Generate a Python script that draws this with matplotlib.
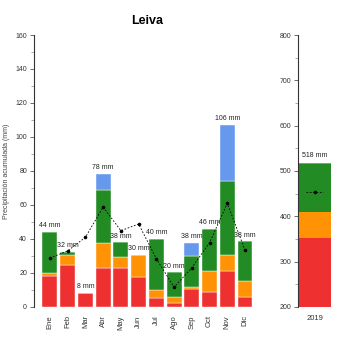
import matplotlib
matplotlib.use("Agg")
import matplotlib.pyplot as plt
import numpy as np

plt.rcParams['font.family'] = ['Liberation Sans', 'DejaVu Sans']

meses = ['Ene', 'Feb', 'Mar', 'Abr', 'May', 'Jun', 'Jul', 'Ago', 'Sep', 'Oct', 'Nov', 'Dic']
# tramos acumulados (valor del tope de cada color)
rojo = [18.4, 24.5, 8.4, 23.0, 23.0, 17.5, 5.5, 2.5, 10.6, 8.8, 21.4, 6.1]
naranja = [20.0, 30.6, 8.4, 37.8, 29.6, 30.6, 10.0, 6.0, 11.8, 21.2, 30.6, 15.3]
verde = [44.3, 32.5, 8.4, 69.0, 38.0, 30.6, 40.2, 20.4, 30.2, 45.9, 74.1, 38.6]
azul = [44.3, 32.5, 8.4, 78.2, 38.0, 30.6, 40.2, 20.4, 37.8, 45.9, 107.0, 38.6]
etiquetas = ['44 mm', '32 mm', '8 mm', '78 mm', '38 mm', '30 mm', '40 mm', '20 mm',
             '38 mm', '46 mm', '106 mm', '38 mm']
media = [28.8, 33.0, 41.0, 58.8, 44.9, 48.8, 28.4, 11.6, 23.1, 37.8, 61.0, 33.3]

anio = ['2019']
anio_tramos = [353, 409, 515, 518]
anio_etiqueta = '518 mm'
anio_media = 453

c_rojo = '#EE3030'
c_naranja = '#FF9205'
c_verde = '#238B23'
c_azul = '#6699EE'

fig = plt.figure(figsize=(3.5, 3.5), dpi=100)
ax = fig.add_axes([0.0971, 0.1229, 0.6486, 0.7771])
ax2 = fig.add_axes([0.8514, 0.1229, 0.106, 0.7771])

x = np.arange(len(meses))
ancho = 0.84
r = np.array(rojo)
n = np.array(naranja)
v = np.array(verde)
a = np.array(azul)
ax.bar(x, r, ancho, color=c_rojo, edgecolor='white', linewidth=0.3)
ax.bar(x, n - r, ancho, bottom=r, color=c_naranja, edgecolor='white', linewidth=0.3)
ax.bar(x, v - n, ancho, bottom=n, color=c_verde, edgecolor='white', linewidth=0.3)
ax.bar(x, a - v, ancho, bottom=v, color=c_azul, edgecolor='white', linewidth=0.3)
for i, t in enumerate(etiquetas):
    ax.annotate(t, (x[i], a[i]), xytext=(0, 2), textcoords='offset points',
                ha='center', va='bottom', fontsize=5, color='#222222')
ax.plot(x, media, linestyle=(0, (2, 2)), color='black', linewidth=0.6,
        marker='o', markersize=1.6)

ax.set_xlim(-0.9, 11.9)
ax.set_ylim(0, 160)
ax.set_yticks(np.arange(0, 161, 20))
ax.set_yticks(np.arange(0, 161, 10), minor=True)
ax.set_xticks(x)
ax.set_xticklabels(meses, rotation=90)
ax.set_ylabel('Precipitación acumulada (mm)', fontsize=5, color='#444444')
ax.set_title('Leiva', fontsize=9, fontweight='bold', pad=8)

ax2.bar([0], [anio_tramos[0] - 200], 1.0, bottom=200, color=c_rojo)
ax2.bar([0], [anio_tramos[1] - anio_tramos[0]], 1.0, bottom=anio_tramos[0], color=c_naranja)
ax2.bar([0], [anio_tramos[2] - anio_tramos[1]], 1.0, bottom=anio_tramos[1], color=c_verde)
ax2.bar([0], [anio_tramos[3] - anio_tramos[2]], 1.0, bottom=anio_tramos[2], color=c_azul)
ax2.annotate(anio_etiqueta, (0, anio_tramos[3]), xytext=(0, 3), textcoords='offset points',
             ha='center', va='bottom', fontsize=5, color='#222222')
ax2.plot([-0.25, 0.25], [anio_media, anio_media], linestyle=(0, (2, 2)), color='black',
         linewidth=0.6)
ax2.plot([0], [anio_media], 'o', color='black', markersize=1.6)
ax2.set_xlim(-0.5, 0.62)
ax2.set_ylim(200, 800)
ax2.set_yticks(np.arange(200, 801, 100))
ax2.set_yticks(np.arange(200, 801, 50), minor=True)
ax2.set_xticks([0])
ax2.set_xticklabels(anio)

for eje in (ax, ax2):
    for s in ('top', 'right', 'bottom'):
        eje.spines[s].set_visible(False)
    eje.spines['left'].set_color('#333333')
    eje.spines['left'].set_linewidth(0.8)
    eje.tick_params(axis='y', which='major', length=3, width=0.6, color='#555555',
                    labelsize=5, labelcolor='#333333', pad=2)
    eje.tick_params(axis='y', which='minor', length=2, width=0.5, color='#888888')
    eje.tick_params(axis='x', length=0, labelsize=5.5, labelcolor='#333333', pad=6)

fig.savefig('out.png', dpi=100)
